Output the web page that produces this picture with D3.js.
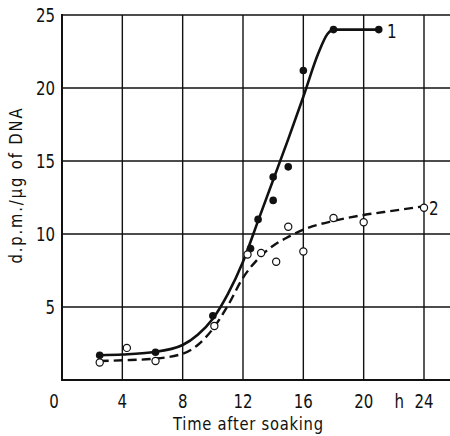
<!DOCTYPE html>
<html>
<head>
<meta charset="utf-8">
<script src="https://cdn.jsdelivr.net/npm/d3@7"></script>
<style>
  body { margin: 0; background: #fff; }
  text { font-family: "DejaVu Sans", sans-serif; fill: #111; }
</style>
</head>
<body>
<svg id="chart" width="450" height="436"></svg>
<script>
// measured points, series 1 (filled) and 2 (open)
const filledPts = [[2.5, 1.7], [6.2, 1.9], [10, 4.4], [12.5, 9.0], [13.0, 11.0], [14.0, 12.3],
  [14.0, 13.9], [15.0, 14.6], [16.0, 21.2], [18.0, 24.0], [21.0, 24.0]];
const openPts = [[2.5, 1.2], [4.3, 2.2], [6.2, 1.3], [10.1, 3.7], [12.3, 8.6], [13.2, 8.7],
  [14.2, 8.1], [15.0, 10.5], [16.0, 8.8], [18.0, 11.1], [20.0, 10.8], [24.0, 11.8]];

// fitted curves as drawn on the figure
const curve1 = [[2.5, 1.7], [4, 1.75], [6, 1.9], [8, 2.4], [9, 3.1], [10, 4.2], [11, 5.9], [12, 8.1],
  [13, 10.9], [14, 13.7], [15, 16.5], [16, 19.4], [17, 22.4], [17.6, 23.7], [18, 24], [21, 24]];
const curve2 = [[2.5, 1.3], [4, 1.35], [6, 1.45], [8, 1.8], [9, 2.4], [10, 3.5], [11, 5.1], [12, 7.0],
  [13, 8.3], [14, 9.2], [15, 9.8], [16, 10.3], [18, 10.9], [20, 11.3], [22, 11.6], [24, 11.9]];

const xTicks = [0, 4, 8, 12, 16, 20, 24];
const yTicks = [5, 10, 15, 20, 25];

const width = 450;

const x = d3.scaleLinear().domain([0, 24]).range([62, 424]);
const y = d3.scaleLinear().domain([0, 25]).range([380, 15]);

const svg = d3.select('#chart');

// narrow lettering like the original print
function label(parent, tx, ty, str, size, anchor, sx, rot) {
  const t = parent.append('text')
    .attr('transform', `translate(${tx},${ty})` + (rot ? ` rotate(${rot})` : '') + ` scale(${sx},1)`)
    .attr('text-anchor', anchor)
    .attr('font-size', size)
    .text(str);
  return t;
}

// grid
const grid = svg.append('g').attr('stroke', '#111').attr('stroke-width', 1.4);
grid.selectAll('line.h')
  .data(yTicks)
  .enter()
  .append('line')
  .attr('x1', x(0))
  .attr('x2', width)
  .attr('y1', d => y(d))
  .attr('y2', d => y(d));
grid.selectAll('line.v')
  .data(xTicks.slice(1))
  .enter()
  .append('line')
  .attr('x1', d => x(d))
  .attr('x2', d => x(d))
  .attr('y1', y(0))
  .attr('y2', y(25));

// axes frame
svg.append('line')
  .attr('x1', x(0)).attr('x2', x(0))
  .attr('y1', y(0) + 1).attr('y2', y(25) - 1)
  .attr('stroke', '#111').attr('stroke-width', 2);
svg.append('line')
  .attr('x1', x(0)).attr('x2', width)
  .attr('y1', y(0)).attr('y2', y(0))
  .attr('stroke', '#111').attr('stroke-width', 2);

// tick labels
const yl = svg.append('g');
yTicks.forEach(d => label(yl, 55, y(d) + 7, d, 20, 'end', 0.75));
const xl = svg.append('g');
xTicks.forEach(d => label(xl, d === 0 ? x(d) - 8 : x(d), 408, d, 20, 'middle', 0.75));
label(xl, x(24) - 20, 408, 'h', 20, 'end', 0.75);

// axis titles
label(svg, 248, 430, 'Time after soaking', 18, 'middle', 0.82)
  .attr('textLength', 150 / 0.82)
  .attr('lengthAdjust', 'spacing');
label(svg, 22, 186, 'd.p.m./µg  of  DNA', 18, 'middle', 0.82, -90)
  .attr('textLength', 155 / 0.82)
  .attr('lengthAdjust', 'spacing');

// curves
const line = d3.line()
  .x(d => x(d[0]))
  .y(d => y(d[1]))
  .curve(d3.curveMonotoneX);

svg.append('path')
  .attr('d', line(curve1))
  .attr('fill', 'none')
  .attr('stroke', '#111')
  .attr('stroke-width', 2.6);
svg.append('path')
  .attr('d', line(curve2))
  .attr('fill', 'none')
  .attr('stroke', '#111')
  .attr('stroke-width', 2.4)
  .attr('stroke-dasharray', '9,5');

// points
svg.append('g')
  .selectAll('circle')
  .data(filledPts)
  .enter()
  .append('circle')
  .attr('cx', d => x(d[0]))
  .attr('cy', d => y(d[1]))
  .attr('r', 3.8)
  .attr('fill', '#111');
svg.append('g')
  .selectAll('circle')
  .data(openPts)
  .enter()
  .append('circle')
  .attr('cx', d => x(d[0]))
  .attr('cy', d => y(d[1]))
  .attr('r', 3.6)
  .attr('fill', '#fff')
  .attr('stroke', '#111')
  .attr('stroke-width', 1.2);

// series labels
label(svg, 387, 38, '1', 19, 'start', 0.8);
label(svg, 429, 215, '2', 19, 'start', 0.8);
</script>
</body>
</html>
